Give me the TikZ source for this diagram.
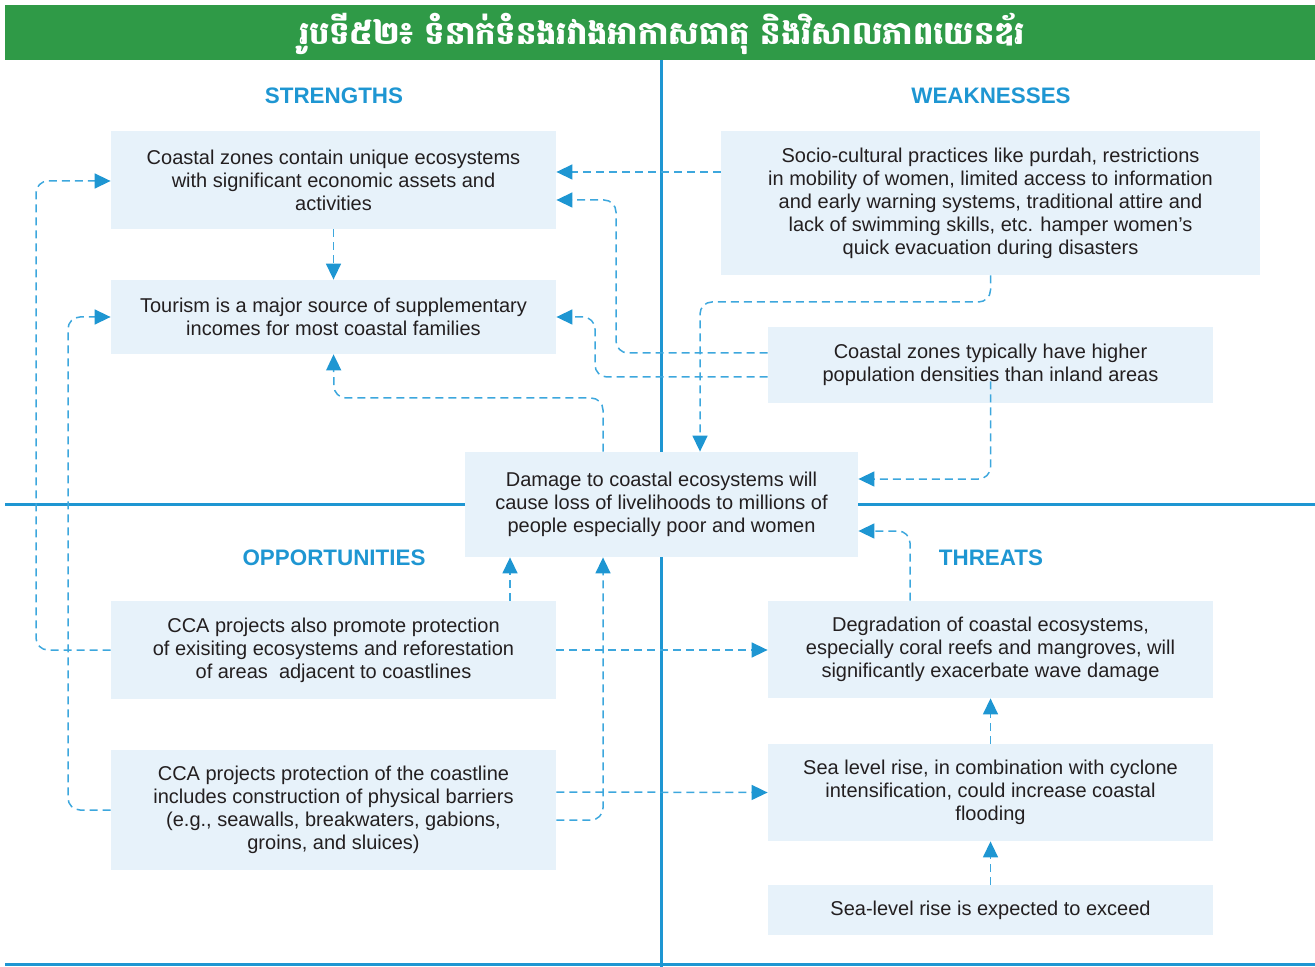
\documentclass[tikz,border=0pt]{standalone}
\usepackage{fontspec}
\setmainfont{Liberation Sans}
\newfontfamily\khmerfont[Script=Khmer]{Battambang}
\usepackage{tikz}
\usetikzlibrary{positioning,arrows.meta}
\usepackage{xcolor}
\definecolor{bannergreen}{HTML}{2F9A47}
\definecolor{lineblue}{HTML}{1E96D2}
\definecolor{dashblue}{HTML}{3DA7DD}
\definecolor{boxfill}{HTML}{E7F2FA}
\definecolor{bodytext}{HTML}{231F20}

\tikzset{
  card/.style={fill=boxfill,text=bodytext,align=center,inner sep=0pt,
    minimum width=222.5pt,font=\fontsize{10}{11.5}\selectfont},
  heading/.style={text=lineblue,font=\fontsize{11.2}{13}\selectfont\bfseries},
  link/.style={->,dashblue,dash pattern=on 4pt off 2.5pt,line width=0.75pt,rounded corners=6pt},
  divider/.style={lineblue,line width=1.5pt}
}

\begin{document}
\begin{tikzpicture}[x=0.5pt,y=-0.5pt,>={Triangle[length=8pt,width=7.5pt,color=lineblue]}]
\useasboundingbox (0,0) rectangle (1315,967);
\fill[bannergreen] (5,5) rectangle (1315,60);
\node[text=white,font=\khmerfont\bfseries\fontsize{16}{18}\selectfont] (title) at (662,34)
  {រូបទី៥២៖ ទំនាក់ទំនងរវាងអាកាសធាតុ និងវិសាលភាពយេនឌ័រ};

% quadrant lines
\draw[divider] (661,60) -- (661,967);
\draw[divider] (5,504) -- (1315,504);
\draw[divider] (5,964) -- (1315,964);

\node[heading] (hs) at (334,96) {STRENGTHS};
\node[heading] (hw) at (991,96) {WEAKNESSES};
\node[heading] (ho) at (334,558) {OPPORTUNITIES};
\node[heading] (ht) at (991,558) {THREATS};

% strengths
\node[card,minimum height=49pt] (s1) at (333.5,180)
  {Coastal zones contain unique ecosystems\\with significant economic assets and\\activities};
\node[card,minimum height=37pt] (s2) at (333.5,317)
  {Tourism is a major source of supplementary\\incomes for most coastal families};
% weaknesses
\node[card,minimum width=269.5pt,minimum height=72pt] (w1) at (990.5,203)
  {Socio-cultural practices like purdah, restrictions\\in mobility of women, limited access to information\\and early warning systems, traditional attire and\\lack of swimming skills, etc. hamper women's\\quick evacuation during disasters};
\node[card,minimum height=38pt] (w2) at (990.5,365)
  {Coastal zones typically have higher\\population densities than inland areas};
% centre
\node[card,minimum width=196.5pt,minimum height=52.5pt] (c) at (661.5,504.5)
  {Damage to coastal ecosystems will\\cause loss of livelihoods to millions of\\people especially poor and women};
% opportunities
\node[card,minimum height=49pt] (o1) at (333.5,650)
  {CCA projects also promote protection\\of exisiting ecosystems and reforestation\\of areas\ \ adjacent to coastlines};
\node[card,minimum height=60pt] (o2) at (333.5,810)
  {CCA projects protection of the coastline\\includes construction of physical barriers\\(e.g., seawalls, breakwaters, gabions,\\groins, and sluices)};
% threats
\node[card,minimum height=48.5pt] (t1) at (990.5,649.5)
  {Degradation of coastal ecosystems,\\especially coral reefs and mangroves, will\\significantly exacerbate wave damage};
\node[card,minimum height=48.5pt] (t2) at (990.5,792.5)
  {Sea level rise, in combination with cyclone\\intensification, could increase coastal\\flooding};
\node[card,minimum height=25pt] (t3) at (990.5,910)
  {Sea-level rise is expected to exceed};

% links
\draw[link] (w1.west |- 0,172) -- (s1.east |- 0,172);
\draw[link] (w2.west |- 0,353) -| (616,200) -- (s1.east |- 0,200);
\draw[link] (w2.west |- 0,377) -| (595,317) -- (s2.east);
\draw[link] (w1.south) |- (700,302) -- (c.north -| 700,0);
\draw[link] (s1.south) -- (s2.north);
\draw[link] (c.north -| 603,0) |- (334,398) -- (s2.south);
\draw[link] ([yshift=11pt]w2.south) |- (c.east |- 0,479);
\draw[link] (t1.north -| 910,0) |- (c.east |- 0,531);
\draw[link] (o1.north -| 510,0) -- (c.south -| 510,0);
\draw[link] (o2.east |- 0,820) -| (c.south -| 603,0);
\draw[link] (o1.west) -| (36,181) -- (s1.west |- 0,181);
\draw[link] (o2.west) -| (68,317) -- (s2.west);
\draw[link] (o1.east) -- (t1.west |- o1.east);
\draw[link] (o2.east |- 0,792) -- (t2.west);
\draw[link] (t2.north) -- (t1.south);
\draw[link] (t3.north) -- (t2.south);
\end{tikzpicture}
\end{document}
